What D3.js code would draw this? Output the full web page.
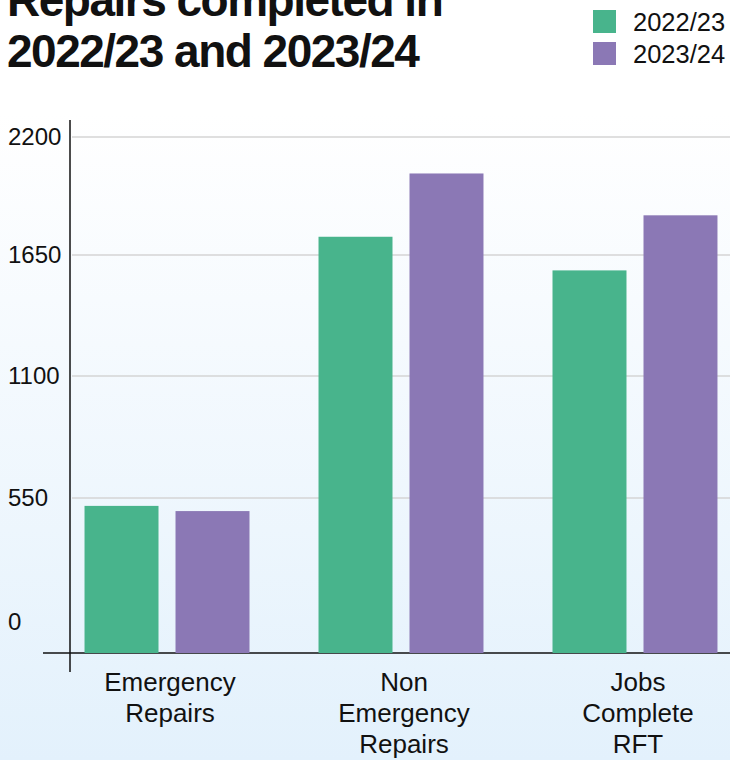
<!DOCTYPE html>
<html>
<head>
<meta charset="utf-8">
<script src="https://cdn.jsdelivr.net/npm/d3@7"></script>
<style>
body { margin: 0; background: #fff; }
text { font-family: "Liberation Sans", Arial, Helvetica, sans-serif; fill: #111; }
</style>
</head>
<body>
<div id="chart"></div>
<script>
// chart data
var categories = [["Emergency", "Repairs"], ["Non", "Emergency", "Repairs"], ["Jobs", "Complete", "RFT"]];
var series = ["2022/23", "2023/24"];
var values2223 = [515, 1735, 1580];
var values2324 = [492, 2030, 1835];
var yTicks = [0, 550, 1100, 1650, 2200];
var colors = ["#48b48c", "#8b78b5"];

var width = 730, height = 760;
var base = 653;

var svg = d3.select("#chart").append("svg")
  .attr("width", width).attr("height", height);

var defs = svg.append("defs");
var grad = defs.append("linearGradient").attr("id", "bg")
  .attr("x1", 0).attr("y1", 0).attr("x2", 0).attr("y2", 1);
grad.append("stop").attr("offset", "0.15").attr("stop-color", "#ffffff");
grad.append("stop").attr("offset", "1").attr("stop-color", "#e3f1fc");
svg.append("rect").attr("width", width).attr("height", height).attr("fill", "url(#bg)");

// the tick spacing in the original isn't quite even, so use a polylinear scale
var y = d3.scaleLinear().domain(yTicks).range([622, 498, 376, 255, 137]);

var keys = categories.map(function(c) { return c.join(" "); });
var x0 = d3.scaleBand().domain(keys).range([15.5, 786.5]).paddingInner(0.295).paddingOuter(0.295);
var x1 = d3.scaleBand().domain(series).range([0, x0.bandwidth()]).paddingInner(0.187);

// gridlines
svg.append("g").selectAll("line").data(yTicks.filter(function(d) { return d > 0; }))
  .join("line")
  .attr("x1", 72).attr("x2", width)
  .attr("y1", function(d) { return y(d); }).attr("y2", function(d) { return y(d); })
  .attr("stroke", "#d4d4d4").attr("stroke-width", 1.5);

// y axis
var yAxis = svg.append("g").attr("transform", "translate(70,0)")
  .call(d3.axisLeft(y).tickValues(yTicks).tickFormat(d3.format("d")).tickSize(0).tickPadding(0));
yAxis.select(".domain").remove();
yAxis.selectAll("text")
  .attr("x", -62).attr("text-anchor", "start")
  .style("font-size", "24px").style("font-family", "'Liberation Sans', Arial, sans-serif")
  .attr("fill", "#111");

svg.append("line").attr("x1", 70).attr("x2", 70).attr("y1", 120).attr("y2", 672)
  .attr("stroke", "#111").attr("stroke-width", 1.5);
svg.append("line").attr("x1", 43).attr("x2", width).attr("y1", base).attr("y2", base)
  .attr("stroke", "#111").attr("stroke-width", 1.5);

// bars
var rows = keys.map(function(k, i) {
  return { key: k, vals: [values2223[i], values2324[i]] };
});
var groups = svg.append("g").selectAll("g").data(rows).join("g")
  .attr("transform", function(d) { return "translate(" + x0(d.key) + ",0)"; });
groups.selectAll("rect").data(function(d) { return d.vals; }).join("rect")
  .attr("x", function(d, i) { return x1(series[i]); })
  .attr("width", x1.bandwidth())
  .attr("y", function(d) { return y(d); })
  .attr("height", function(d) { return base - y(d); })
  .attr("fill", function(d, i) { return colors[i]; });

// category labels
var labels = svg.append("g").selectAll("text").data(categories).join("text")
  .attr("text-anchor", "middle")
  .style("font-size", "26px")
  .attr("x", function(d, i) { return x0(keys[i]) + x0.bandwidth() / 2 + 3; })
  .attr("y", 691);
labels.selectAll("tspan").data(function(d) { return d; }).join("tspan")
  .attr("x", function() { return d3.select(this.parentNode).attr("x"); })
  .attr("dy", function(d, i) { return i === 0 ? 0 : 31; })
  .text(function(d) { return d; });

// title
var title = svg.append("text").style("font-size", "46px").style("font-weight", "bold")
  .style("letter-spacing", "-1.5px").attr("x", 7).attr("y", 16);
title.append("tspan").attr("x", 7).text("Repairs completed in");
title.append("tspan").attr("x", 7).attr("dy", 51).text("2022/23 and 2023/24");

// legend
var legend = svg.append("g").selectAll("g").data(series).join("g")
  .attr("transform", function(d, i) { return "translate(593," + (10 + i * 32) + ")"; });
legend.append("rect").attr("width", 23).attr("height", 23)
  .attr("fill", function(d, i) { return colors[i]; });
legend.append("text").attr("x", 40).attr("y", 21).style("font-size", "25.5px")
  .text(function(d) { return d; });
</script>
</body>
</html>
